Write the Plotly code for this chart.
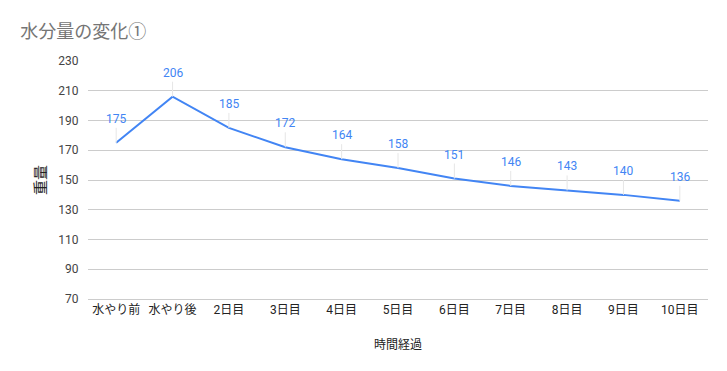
import plotly.graph_objects as go

categories = ["水やり前", "水やり後", "2日目", "3日目", "4日目", "5日目", "6日目", "7日目", "8日目", "9日目", "10日目"]
weights = [175, 206, 185, 172, 164, 158, 151, 146, 143, 140, 136]
y_ticks = [70, 90, 110, 130, 150, 170, 190, 210, 230]

FONT = "Roboto, 'Noto Sans CJK JP', sans-serif"
BLUE = "#4285F4"

fig = go.Figure()
fig.add_trace(go.Scatter(
    x=categories, y=weights, mode="lines",
    line=dict(color=BLUE, width=2), hoverinfo="x+y", showlegend=False,
))

for c, v in zip(categories, weights):
    fig.add_annotation(
        x=c, y=v, text=str(v), showarrow=True, arrowhead=0, arrowwidth=1,
        arrowcolor="#e6e6e6", ax=0, ay=-15, standoff=0, yanchor="bottom",
        font=dict(family=FONT, size=12, color=BLUE),
    )

fig.update_layout(
    width=719, height=363,
    margin=dict(l=80, r=19, t=53, b=72),
    paper_bgcolor="white", plot_bgcolor="white",
    font=dict(family=FONT, size=12, color="#222222"),
    title=dict(text="水分量の変化①", x=0.017, xanchor="left", y=0.935, yanchor="middle",
               font=dict(family=FONT, size=18, color="#757575")),
    xaxis=dict(
        type="category", range=[-0.5, 10.5], showgrid=False, showline=True, linecolor="#cccccc",
        ticks="", tickfont=dict(size=12, color="#222222"),
        title=dict(text="時間経過", font=dict(size=12, color="#222222"), standoff=24),
    ),
    yaxis=dict(
        range=[70, 230], tickvals=y_ticks, showgrid=True, gridcolor="#cccccc",
        zeroline=False, showline=False, ticks="outside", tickcolor="white", ticklen=6,
        tickfont=dict(size=12, color="#444444"),
        title=dict(text="重量", font=dict(size=15, color="#222222"), standoff=8),
    ),
)

fig.write_html("out.html")
